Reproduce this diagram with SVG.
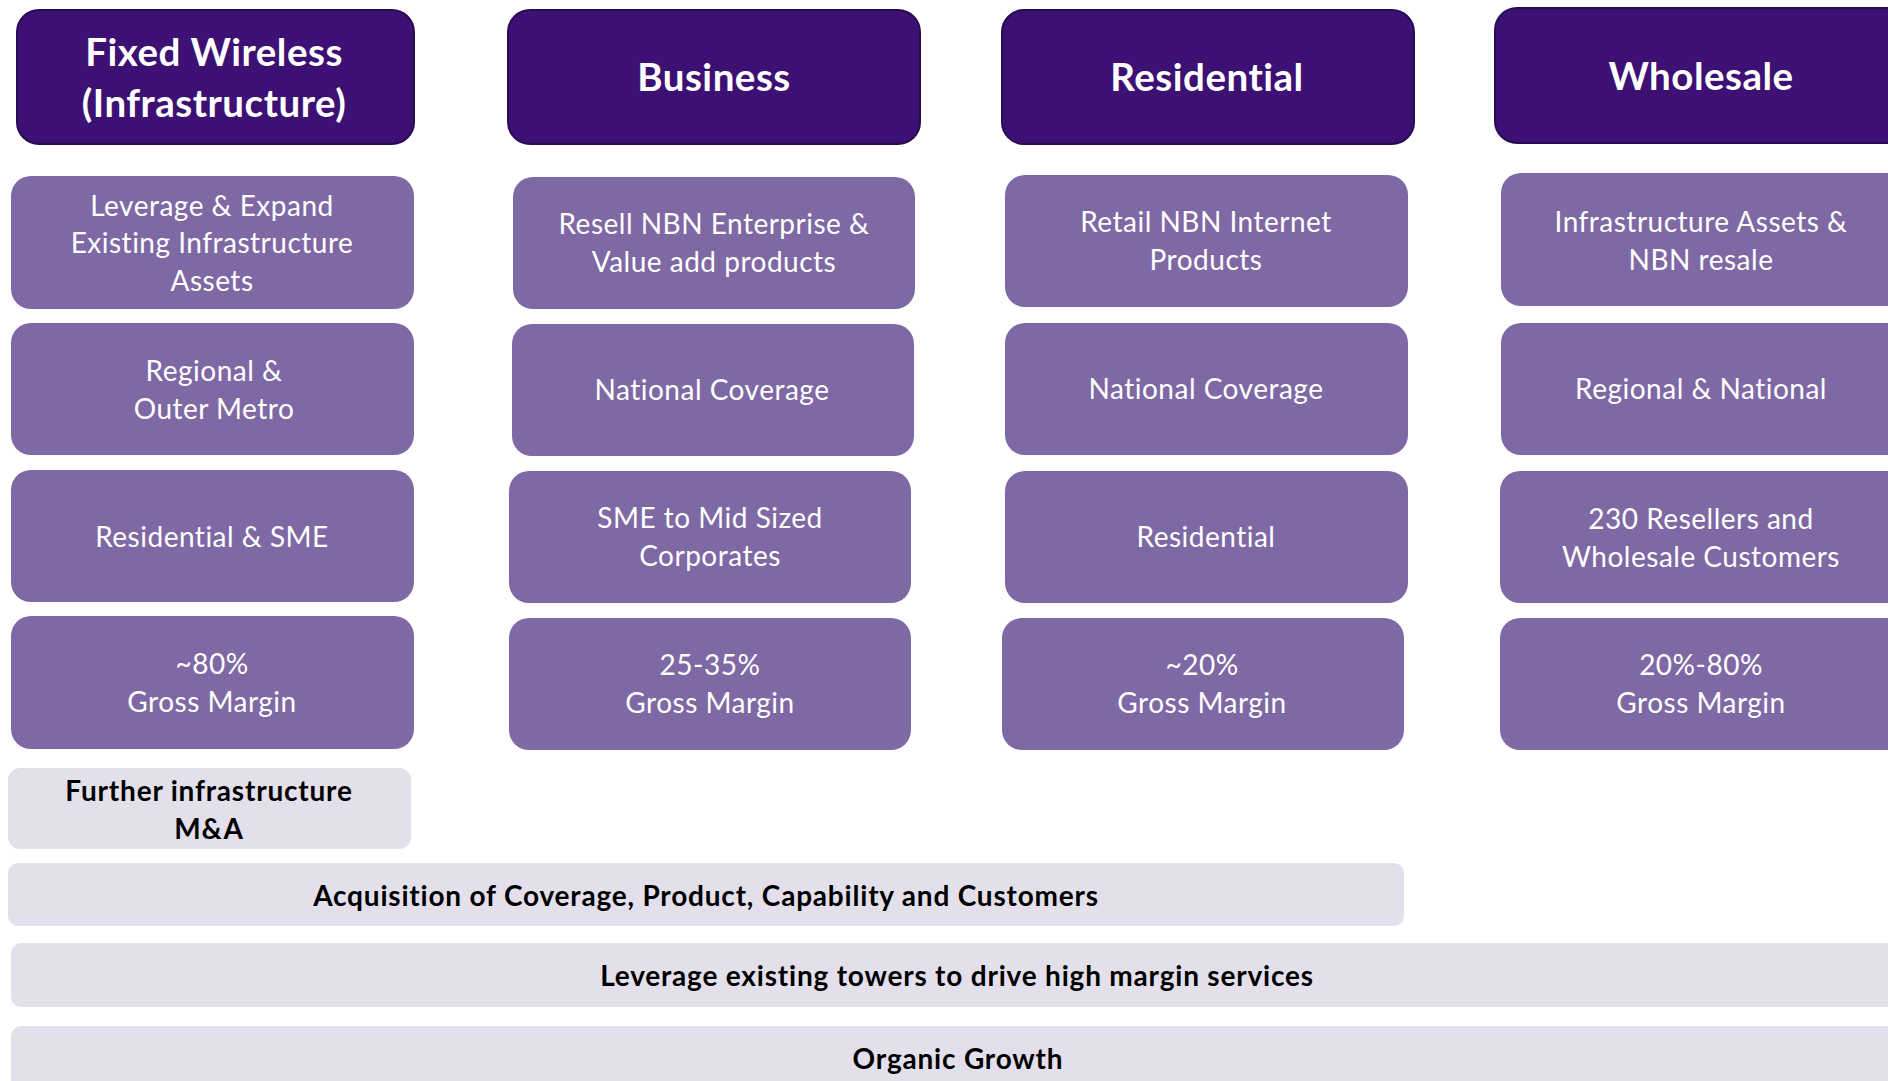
<svg xmlns="http://www.w3.org/2000/svg" width="1888" height="1081" viewBox="0 0 1888 1081">
  <style>
    .hdr { fill: #3d1174; stroke: #2a0a55; stroke-width: 2; }
    .sub { fill: #7e69a4; }
    .bar { fill: #e3e0ec; }
    .ht { font-family: Lato, "Liberation Sans", sans-serif; font-weight: 700; font-size: 38.5px; letter-spacing: 0.5px; fill: #ffffff; text-anchor: middle; }
    .st { font-family: Lato, "Liberation Sans", sans-serif; font-size: 28px; letter-spacing: 0.5px; fill: #ffffff; text-anchor: middle; }
    .bt { font-family: Lato, "Liberation Sans", sans-serif; font-weight: 700; font-size: 28px; letter-spacing: 0.8px; fill: #000000; text-anchor: middle; }
  </style>

  <rect width="1888" height="1081" fill="#ffffff"/>

  <!-- Column headers -->
  <g id="hdr-fixed-wireless">
    <rect class="hdr" x="17" y="10" width="397" height="134" rx="22"/>
    <text class="ht" x="214" y="66">Fixed Wireless</text>
    <text class="ht" x="214" y="117">(Infrastructure)</text>
  </g>
  <g id="hdr-business">
    <rect class="hdr" x="508" y="10" width="412" height="134" rx="22"/>
    <text class="ht" x="714" y="91">Business</text>
  </g>
  <g id="hdr-residential">
    <rect class="hdr" x="1002" y="10" width="412" height="134" rx="22"/>
    <text class="ht" x="1207" y="91">Residential</text>
  </g>
  <g id="hdr-wholesale">
    <rect class="hdr" x="1495" y="8" width="430" height="135" rx="22"/>
    <text class="ht" x="1701" y="90">Wholesale</text>
  </g>

  <!-- Fixed Wireless column -->
  <g id="fw-offer">
    <rect class="sub" x="11" y="176" width="403" height="133" rx="20"/>
    <text class="st" x="212" y="216">Leverage &amp; Expand</text>
    <text class="st" x="212" y="253">Existing Infrastructure</text>
    <text class="st" x="212" y="291">Assets</text>
  </g>
  <g id="fw-coverage">
    <rect class="sub" x="11" y="323" width="403" height="132" rx="20"/>
    <text class="st" x="214" y="381">Regional &amp;</text>
    <text class="st" x="214" y="419">Outer Metro</text>
  </g>
  <g id="fw-customers">
    <rect class="sub" x="11" y="470" width="403" height="132" rx="20"/>
    <text class="st" x="212" y="547">Residential &amp; SME</text>
  </g>
  <g id="fw-margin">
    <rect class="sub" x="11" y="616" width="403" height="133" rx="20"/>
    <text class="st" x="212" y="674">~80%</text>
    <text class="st" x="212" y="712">Gross Margin</text>
  </g>

  <!-- Business column -->
  <g id="bus-offer">
    <rect class="sub" x="513" y="177" width="402" height="132" rx="20"/>
    <text class="st" x="714" y="234">Resell NBN Enterprise &amp;</text>
    <text class="st" x="714" y="272">Value add products</text>
  </g>
  <g id="bus-coverage">
    <rect class="sub" x="512" y="324" width="402" height="132" rx="20"/>
    <text class="st" x="712" y="400">National Coverage</text>
  </g>
  <g id="bus-customers">
    <rect class="sub" x="509" y="471" width="402" height="132" rx="20"/>
    <text class="st" x="710" y="528">SME to Mid Sized</text>
    <text class="st" x="710" y="566">Corporates</text>
  </g>
  <g id="bus-margin">
    <rect class="sub" x="509" y="618" width="402" height="132" rx="20"/>
    <text class="st" x="710" y="675">25-35%</text>
    <text class="st" x="710" y="713">Gross Margin</text>
  </g>

  <!-- Residential column -->
  <g id="res-offer">
    <rect class="sub" x="1005" y="175" width="403" height="132" rx="20"/>
    <text class="st" x="1206" y="232">Retail NBN Internet</text>
    <text class="st" x="1206" y="270">Products</text>
  </g>
  <g id="res-coverage">
    <rect class="sub" x="1005" y="323" width="403" height="132" rx="20"/>
    <text class="st" x="1206" y="399">National Coverage</text>
  </g>
  <g id="res-customers">
    <rect class="sub" x="1005" y="471" width="403" height="132" rx="20"/>
    <text class="st" x="1206" y="547">Residential</text>
  </g>
  <g id="res-margin">
    <rect class="sub" x="1002" y="618" width="402" height="132" rx="20"/>
    <text class="st" x="1202" y="675">~20%</text>
    <text class="st" x="1202" y="713">Gross Margin</text>
  </g>

  <!-- Wholesale column -->
  <g id="wh-offer">
    <rect class="sub" x="1501" y="173" width="420" height="133" rx="20"/>
    <text class="st" x="1701" y="232">Infrastructure Assets &amp;</text>
    <text class="st" x="1701" y="270">NBN resale</text>
  </g>
  <g id="wh-coverage">
    <rect class="sub" x="1501" y="323" width="420" height="132" rx="20"/>
    <text class="st" x="1701" y="399">Regional &amp; National</text>
  </g>
  <g id="wh-customers">
    <rect class="sub" x="1500" y="471" width="420" height="132" rx="20"/>
    <text class="st" x="1701" y="529">230 Resellers and</text>
    <text class="st" x="1701" y="567">Wholesale Customers</text>
  </g>
  <g id="wh-margin">
    <rect class="sub" x="1500" y="618" width="420" height="132" rx="20"/>
    <text class="st" x="1701" y="675">20%-80%</text>
    <text class="st" x="1701" y="713">Gross Margin</text>
  </g>

  <!-- Growth strategy bars -->
  <g id="bar-infra-ma">
    <rect class="bar" x="8" y="768" width="403" height="81" rx="12"/>
    <text class="bt" x="209" y="801">Further infrastructure</text>
    <text class="bt" x="209" y="839">M&amp;A</text>
  </g>
  <g id="bar-acquisition">
    <rect class="bar" x="8" y="863" width="1396" height="63" rx="10"/>
    <text class="bt" x="706" y="906">Acquisition of Coverage, Product, Capability and Customers</text>
  </g>
  <g id="bar-towers">
    <rect class="bar" x="11" y="943" width="1892" height="64" rx="10"/>
    <text class="bt" x="957" y="986">Leverage existing towers to drive high margin services</text>
  </g>
  <g id="bar-organic">
    <rect class="bar" x="11" y="1026" width="1892" height="80" rx="10"/>
    <text class="bt" x="958" y="1069">Organic Growth</text>
  </g>

  <g id="connectors"/>
</svg>
